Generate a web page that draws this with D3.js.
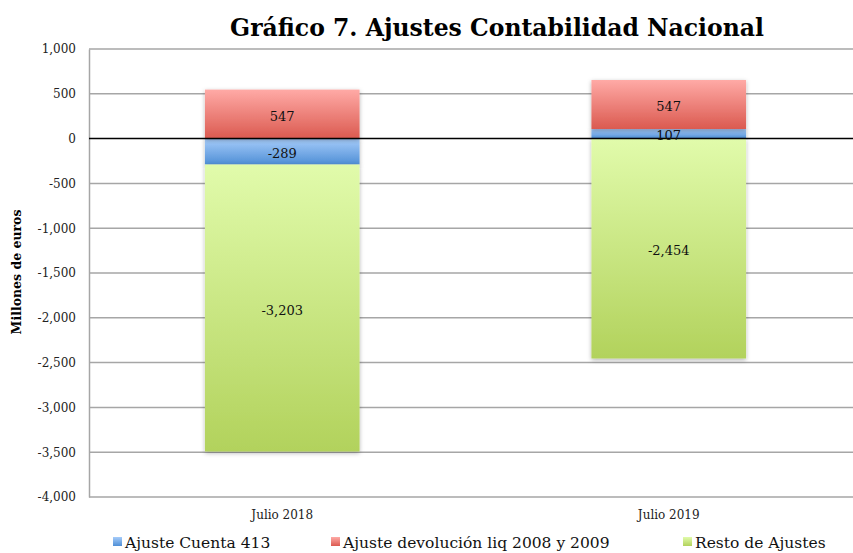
<!DOCTYPE html>
<html>
<head>
<meta charset="utf-8">
<script src="https://cdn.jsdelivr.net/npm/d3@7/dist/d3.min.js"></script>
<style>
  body { margin: 0; background: #fff; }
  svg { display: block; }
  svg text { font-family: "DejaVu Serif", Georgia, serif; }
</style>
</head>
<body>
<svg id="chart" width="853" height="553"></svg>
<script>
const categories = ['Julio 2018', 'Julio 2019']
const seriesNames = ['Ajuste Cuenta 413', 'Ajuste devolución liq 2008 y 2009', 'Resto de Ajustes']
const cuenta413 = [-289, 107]
const devolucion = [547, 547]
const resto = [-3203, -2454]
const yTicks = [1000, 500, 0, -500, -1000, -1500, -2000, -2500, -3000, -3500, -4000]

const svg = d3.select('#chart')
const margin = { left: 89, right: 862, top: 49, bottom: 497 }

const x = d3.scaleBand().domain(categories).range([margin.left, margin.right]).paddingInner(0.6).paddingOuter(0.3)
const y = d3.scaleLinear().domain([-4000, 1000]).range([margin.bottom, margin.top])
const fmt = v => d3.format(',')(v).replace('\u2212', '-')

// gradients
const defs = svg.append('defs')
const grads = [
  { id: 'gBlue', top: '#a6ccfa', bottom: '#4f8fd6' },
  { id: 'gRed', top: '#ffaaa6', bottom: '#db5a50' },
  { id: 'gGreen', top: '#e1fbab', bottom: '#b2d25c' }
]
grads.forEach(g => {
  const lg = defs.append('linearGradient').attr('id', g.id).attr('x1', 0).attr('y1', 0).attr('x2', 0).attr('y2', 1)
  lg.append('stop').attr('offset', '0%').attr('stop-color', g.top)
  lg.append('stop').attr('offset', '100%').attr('stop-color', g.bottom)
})
const shadow = defs.append('filter').attr('id', 'shadow').attr('x', '-10%').attr('y', '-10%').attr('width', '120%').attr('height', '120%')
shadow.append('feDropShadow').attr('dx', 0).attr('dy', 1.5).attr('stdDeviation', 2).attr('flood-color', '#000').attr('flood-opacity', 0.3)

// gridlines
svg.append('g').selectAll('line').data(yTicks.filter(d => d !== 0)).join('line')
  .attr('x1', margin.left).attr('x2', margin.right)
  .attr('y1', d => y(d)).attr('y2', d => y(d))
  .attr('stroke', '#a6a6a6').attr('stroke-width', 1.5)

// y axis
const yAxis = svg.append('g').attr('transform', `translate(${margin.left},0)`)
  .call(d3.axisLeft(y).tickValues(yTicks).tickFormat(fmt).tickSize(0).tickPadding(13))
yAxis.attr('font-family', null)
yAxis.select('.domain').attr('stroke', '#a6a6a6').attr('stroke-width', 1.5)
yAxis.selectAll('text').attr('font-size', 12).attr('fill', '#222')

// segments
const segs = []
categories.forEach((c, i) => {
  let pos = 0, neg = 0
  const parts = [
    { v: cuenta413[i], fill: 'url(#gBlue)' },
    { v: devolucion[i], fill: 'url(#gRed)' },
    { v: resto[i], fill: 'url(#gGreen)' }
  ]
  parts.forEach(p => {
    let y0, y1
    if (p.v >= 0) { y0 = pos; y1 = pos + p.v; pos = y1 }
    else { y0 = neg; y1 = neg + p.v; neg = y1 }
    segs.push({ c, v: p.v, y0, y1, fill: p.fill })
  })
})

const bars = svg.append('g')
bars.selectAll('rect').data(segs).join('rect')
  .attr('x', d => x(d.c))
  .attr('width', x.bandwidth())
  .attr('y', d => y(Math.max(d.y0, d.y1)))
  .attr('height', d => Math.abs(y(d.y0) - y(d.y1)))
  .attr('fill', d => d.fill)
  .attr('filter', 'url(#shadow)')

// zero line
svg.append('line')
  .attr('x1', margin.left).attr('x2', margin.right)
  .attr('y1', y(0)).attr('y2', y(0))
  .attr('stroke', '#000').attr('stroke-width', 1.5)

// value labels
svg.append('g').selectAll('text').data(segs).join('text')
  .attr('x', d => x(d.c) + x.bandwidth() / 2)
  .attr('y', d => y((d.y0 + d.y1) / 2) + 2)
  .attr('dy', '0.35em')
  .attr('text-anchor', 'middle')
  .attr('font-size', 13)
  .attr('fill', '#111')
  .text(d => fmt(d.v))

// category labels
svg.append('g').selectAll('text').data(categories).join('text')
  .attr('x', d => x(d) + x.bandwidth() / 2)
  .attr('y', 519)
  .attr('text-anchor', 'middle')
  .attr('font-size', 12)
  .attr('fill', '#222')
  .text(d => d)

// title
svg.append('text')
  .attr('x', 497).attr('y', 36)
  .attr('text-anchor', 'middle')
  .attr('font-size', 23.5).attr('font-weight', 'bold')
  .text('Gráfico 7. Ajustes Contabilidad Nacional')

// y axis title
svg.append('text')
  .attr('transform', 'translate(21,272) rotate(-90)')
  .attr('text-anchor', 'middle')
  .attr('font-size', 12.5).attr('font-weight', 'bold')
  .text('Millones de euros')

// legend
const legendX = [113, 331, 683]
const legendFill = ['url(#gBlue)', 'url(#gRed)', 'url(#gGreen)']
const leg = svg.append('g').selectAll('g').data(seriesNames).join('g')
  .attr('transform', (d, i) => `translate(${legendX[i]},537)`)
leg.append('rect').attr('width', 9).attr('height', 9).attr('fill', (d, i) => legendFill[i])
leg.append('text').attr('x', 12).attr('y', 10.5).attr('font-size', 15.5).attr('fill', '#111').text(d => d)
</script>
</body>
</html>
